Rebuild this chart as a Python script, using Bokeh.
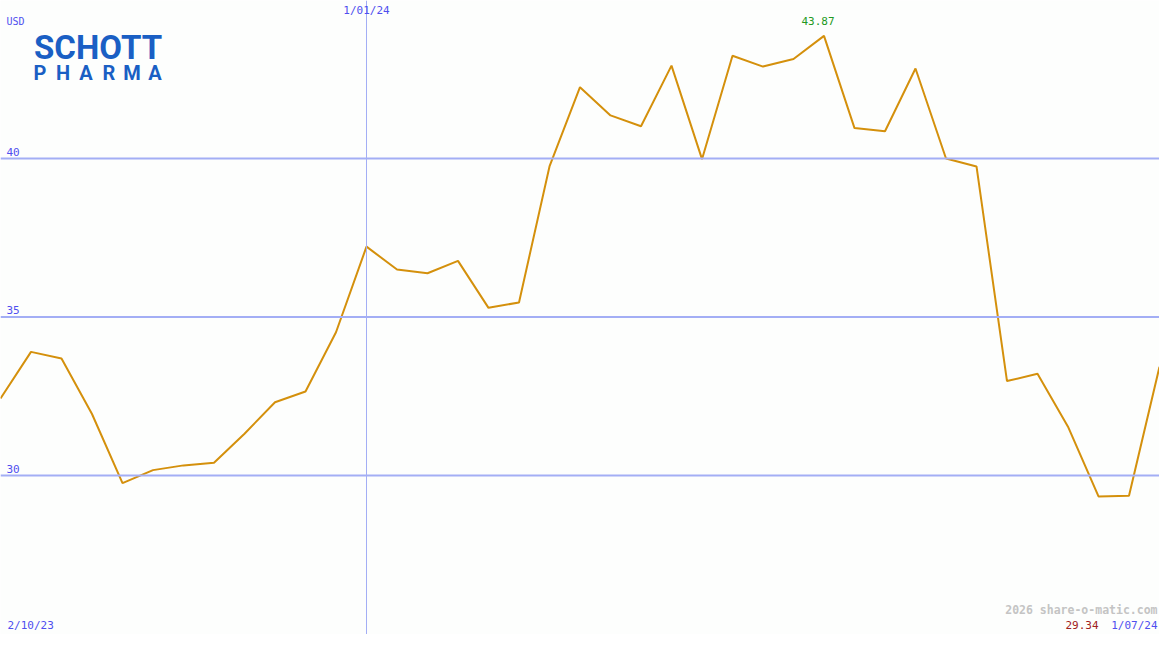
import datetime as dt
from bokeh.plotting import figure
from bokeh.models import Range1d, Span, Label
from bokeh.core.properties import value
from bokeh.embed import file_html
from bokeh.resources import INLINE

# ---- data ----
start_date = dt.datetime(2023, 10, 9)
prices = [32.43, 33.90, 33.69, 31.94, 29.76, 30.17, 30.32, 30.40, 31.32, 32.31,
          32.65, 34.52, 37.22, 36.50, 36.38, 36.77, 35.29, 35.46, 39.75, 42.25,
          41.36, 41.02, 42.93, 39.98, 43.24, 42.90, 43.14, 43.87, 40.96, 40.86,
          42.84, 40.00, 39.75, 32.98, 33.21, 31.54, 29.34, 29.36, 33.43]
dates = [start_date + dt.timedelta(weeks=i) for i in range(len(prices))]
grid_values = [30, 35, 40]
grid_labels = ["30", "35", "40"]
marker_date = dt.datetime(2024, 1, 1)
marker_label = "1/01/24"
left_date_label = "2/10/23"
right_date_label = "1/07/24"
currency = "USD"
watermark = "2026 share-o-matic.com"

W, H = 1159, 634
RW, RH = 1175, 650
sx = W / RW
sy = H / RH

def X(xr):
    return xr * sx

def Y(yr):
    return H - yr * sy

def ms(d):
    return (d - dt.datetime(1970, 1, 1)).total_seconds() * 1000

BLUE = "#4f4fef"
GRID = "#a3aef5"
LINE = "#d4900c"
MONO = value("DejaVu Sans Mono")

p = figure(width=W, height=H, x_axis_type="datetime",
           x_range=Range1d(dates[0], dates[-1]),
           y_range=Range1d(24.985, 44.985),
           output_backend="svg", toolbar_location=None, min_border=0,
           background_fill_color="#fdfefd", border_fill_color="#fdfefd")
p.axis.visible = False
p.grid.visible = False
p.outline_line_color = None

for gv in grid_values:
    p.add_layout(Span(location=gv, dimension="width", line_color=GRID, line_width=2))
p.add_layout(Span(location=marker_date, dimension="height", line_color=GRID, line_width=1))

p.line(dates, prices, line_color=LINE, line_width=2)

# grid labels
p.text(x=[dates[0]] * len(grid_values), y=grid_values, text=grid_labels,
       x_offset=6, y_offset=-3, text_baseline="bottom", text_align="left",
       text_font=MONO, text_font_size="11px", text_color=BLUE)

p.add_layout(Label(x=ms(marker_date), y=Y(10), y_units="screen", text=marker_label,
                   text_align="center", text_baseline="alphabetic",
                   text_font="DejaVu Sans Mono", text_font_size="11px", text_color=BLUE))

# max / min labels
imax = prices.index(max(prices))
imin = prices.index(min(prices))
p.text(x=[dates[imax]], y=[prices[imax]], text=[f"{prices[imax]:.2f}"],
       x_offset=-6, y_offset=-15, text_align="center", text_baseline="alphabetic",
       text_font=MONO, text_font_size="11px", text_color="#229922")
p.add_layout(Label(x=ms(dates[imin]), y=Y(644), y_units="screen", text=f"{prices[imin]:.2f}",
                   text_align="right",
                   text_font="DejaVu Sans Mono", text_font_size="11px", text_color="#a02020"))

p.add_layout(Label(x=X(6), y=Y(27), x_units="screen", y_units="screen", text=currency,
                   text_font="DejaVu Sans Mono", text_font_size="10px", text_color=BLUE))
p.add_layout(Label(x=X(7), y=Y(647), x_units="screen", y_units="screen", text=left_date_label,
                   text_font="DejaVu Sans Mono", text_font_size="11px", text_color=BLUE))
p.add_layout(Label(x=X(1173), y=Y(647), x_units="screen", y_units="screen", text=right_date_label,
                   text_align="right",
                   text_font="DejaVu Sans Mono", text_font_size="11px", text_color=BLUE))
p.add_layout(Label(x=X(1173), y=Y(632), x_units="screen", y_units="screen", text=watermark,
                   text_align="right", text_font_style="bold",
                   text_font="DejaVu Sans Mono", text_font_size="11.5px", text_color="#c4c4c4"))

# logo
LOGO = "#1a5fc4"
p.add_layout(Label(x=X(34), y=Y(68), x_units="screen", y_units="screen", text="SCHOTT",
                   text_font="Roboto", text_font_size="33px", text_font_style="bold",
                   text_color=LOGO))
for i, ch in enumerate("PHARMA"):
    p.add_layout(Label(x=X(40 + i * 23.3), y=Y(87), x_units="screen", y_units="screen",
                       text=ch, text_align="center",
                       text_font="Roboto", text_font_size="20px", text_font_style="bold",
                       text_color=LOGO))

open("out.html", "w").write(file_html(p, INLINE))
